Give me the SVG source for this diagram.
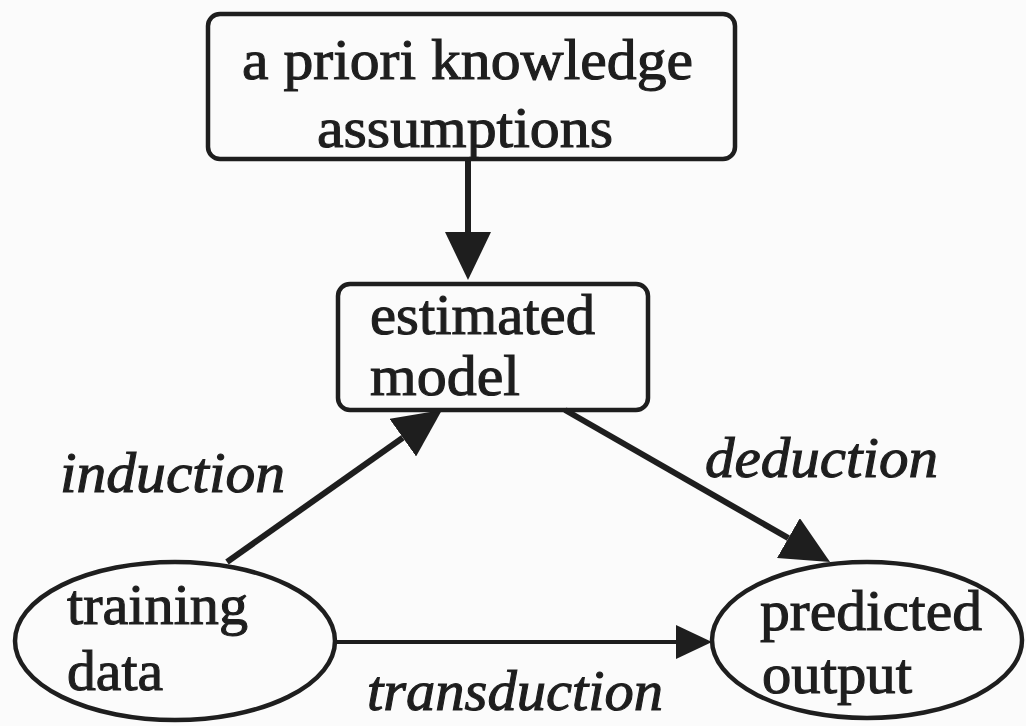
<svg xmlns="http://www.w3.org/2000/svg" width="1026" height="726" viewBox="0 0 1026 726">
  <style>
    .box { fill: none; stroke: #1e1e1e; stroke-width: 4.5; }
    .lbl { font-family: "Liberation Serif", "DejaVu Serif", serif; font-size: 58px; fill: #1e1e1e; stroke: #1e1e1e; stroke-width: 1.1; }
    .it { font-style: italic; }
    .edge { fill: none; stroke: #1e1e1e; stroke-width: 6; }
    .thin { stroke-width: 4; }
  </style>
  <defs>
    <marker id="ah" viewBox="0 0 48 46" refX="0" refY="23" markerWidth="48" markerHeight="46" markerUnits="userSpaceOnUse" orient="auto">
      <path d="M0,0 L48,23 L0,46 z" fill="#1e1e1e"/>
    </marker>
    <marker id="ahs" viewBox="0 0 36 34" refX="0" refY="17" markerWidth="36" markerHeight="34" markerUnits="userSpaceOnUse" orient="auto">
      <path d="M0,0 L36,17 L0,34 z" fill="#1e1e1e"/>
    </marker>
  </defs>
  <rect x="0" y="0" width="1026" height="726" fill="#fbfbfb"/>

  <g id="connectors">
    <path class="edge" d="M468,160 L468,232" marker-end="url(#ah)"/>
    <path class="edge" d="M227,562 L402.8,437.7" marker-end="url(#ah)"/>
    <path class="edge" d="M565,410 L788.4,538.1" marker-end="url(#ah)"/>
    <path class="edge thin" d="M337,642 L676,642" marker-end="url(#ahs)"/>
  </g>

  <g id="node-apriori">
    <rect class="box" x="208" y="14" width="527" height="145" rx="12"/>
    <text class="lbl" x="242" y="79" textLength="451" lengthAdjust="spacingAndGlyphs">a priori knowledge</text>
    <text class="lbl" x="317" y="147" textLength="296" lengthAdjust="spacingAndGlyphs">assumptions</text>
  </g>

  <g id="node-model">
    <rect class="box" x="338" y="284" width="310" height="126" rx="12"/>
    <text class="lbl" x="370" y="334" textLength="225" lengthAdjust="spacingAndGlyphs">estimated</text>
    <text class="lbl" x="370" y="395" textLength="150" lengthAdjust="spacingAndGlyphs">model</text>
  </g>

  <g id="node-training">
    <ellipse class="box" cx="175" cy="641" rx="160" ry="79"/>
    <text class="lbl" x="67" y="624" textLength="181" lengthAdjust="spacingAndGlyphs">training</text>
    <text class="lbl" x="67" y="690" textLength="96" lengthAdjust="spacingAndGlyphs">data</text>
  </g>

  <g id="node-predicted">
    <ellipse class="box" cx="867" cy="640" rx="155" ry="78"/>
    <text class="lbl" x="760" y="630" textLength="222" lengthAdjust="spacingAndGlyphs">predicted</text>
    <text class="lbl" x="762" y="693" textLength="150" lengthAdjust="spacingAndGlyphs">output</text>
  </g>

  <g id="edge-labels">
    <text class="lbl it" x="60" y="492" textLength="225" lengthAdjust="spacingAndGlyphs">induction</text>
    <text class="lbl it" x="705" y="477" textLength="233" lengthAdjust="spacingAndGlyphs">deduction</text>
    <text class="lbl it" x="367" y="710" textLength="296" lengthAdjust="spacingAndGlyphs">transduction</text>
  </g>
</svg>
